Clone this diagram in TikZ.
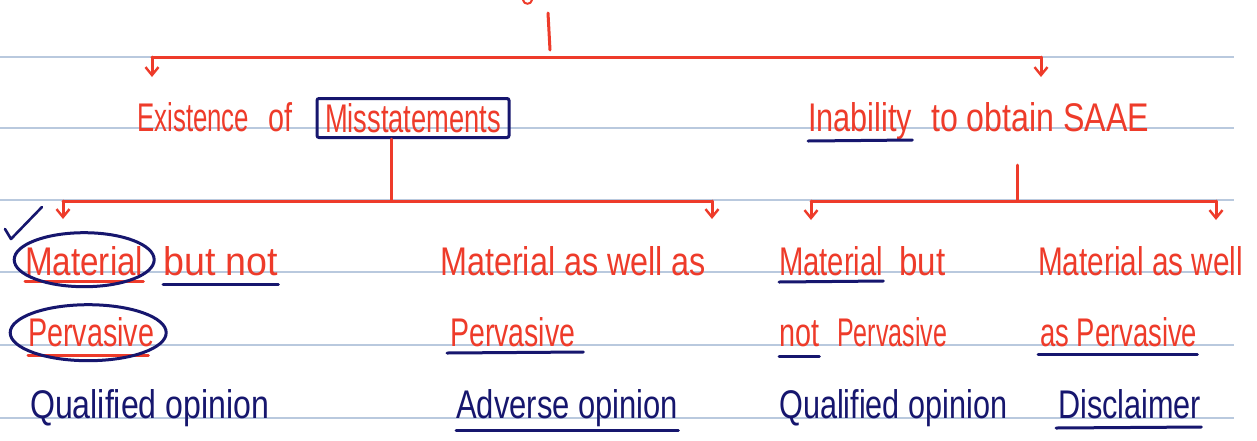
\documentclass[tikz,border=0pt]{standalone}
\usepackage{fontspec}
\setmainfont{Liberation Sans}
\usetikzlibrary{arrows.meta}
\definecolor{pen}{HTML}{EE3B2A}
\definecolor{ink}{HTML}{16166E}
\definecolor{ruled}{HTML}{B9C9DE}
\newcommand{\hw}[2]{\resizebox{#1pt}{\height}{#2}}
\begin{document}
\begin{tikzpicture}[x=1pt,y=-1pt,
  lbl/.style={inner sep=0pt, anchor=base west, font=\fontsize{40}{46}\selectfont},
  redtxt/.style={lbl, text=pen},
  navytxt/.style={lbl, text=ink},
  redline/.style={draw=pen, line width=3pt, line cap=round},
  downarrow/.style={redline, -{Straight Barb[length=8pt,width=13pt,line width=2.4pt]}},
  navyline/.style={draw=ink, line width=3pt, line cap=round},
  redul/.style={draw=pen, line width=3pt, line cap=round},
  ruleline/.style={draw=ruled, line width=1.4pt}]
\fill[white] (0,0) rectangle (1257,440);
\useasboundingbox (0,0) rectangle (1257,440);
% ruled paper
\foreach \yy in {57,128,200,272,345,418}{\draw[ruleline] (0,\yy) -- (1234,\yy);}
% top
\draw[redline, line width=2pt] (523,0) .. controls (524,5) and (531,5) .. (532,0);
\coordinate (t0) at (548,13);
\coordinate (t1) at (550,50);
\draw[redline] (t0) -- (t1);
\coordinate (hl) at (152,57);
\coordinate (hr) at (1041,57);
\draw[redline] (hl) -- (hr);
\coordinate (al) at (152,77);
\coordinate (ar) at (1041,77);
\draw[downarrow] (hl) -- (al);
\draw[downarrow] (hr) -- (ar);
% level 1 texts
\node[redtxt] (exist) at (137,131) {\hw{112}{Existence}};
\node[redtxt] (of) at (268,131) {\hw{24}{of}};
\node[draw=ink, line width=3pt, rounded corners=2pt, inner sep=0pt,
      minimum width=192pt, minimum height=39pt, text=pen,
      font=\fontsize{40}{46}\selectfont] (mis) at (413,118) {\hw{176}{Misstatements}};
\node[redtxt] (inab) at (808,131) {\hw{104}{Inability}};
\node[redtxt] (obt) at (931,131) {\hw{218}{to obtain SAAE}};
\draw[navyline] ([yshift=-10pt]inab.base west) -- ([yshift=-9pt]inab.base east);
% level 2 connectors (left)
\coordinate (j1) at (391,201);
\draw[redline] (mis.south -| j1) -- (j1);
\coordinate (l1) at (63,201);
\coordinate (l2) at (712,201);
\draw[redline] (l1) -- (l2);
\coordinate (l1e) at (63,219);
\coordinate (l2e) at (712,219);
\draw[downarrow] (l1) -- (l1e);
\draw[downarrow] (l2) -- (l2e);
% level 2 connectors (right)
\coordinate (j2t) at (1017,165);
\coordinate (j2) at (1017,201);
\draw[redline] (j2t) -- (j2);
\coordinate (r1) at (811,201);
\coordinate (r2) at (1216,201);
\draw[redline] (r1) -- (r2);
\coordinate (r1e) at (811,220);
\coordinate (r2e) at (1216,220);
\draw[downarrow] (r1) -- (r1e);
\draw[downarrow] (r2) -- (r2e);
% check mark
\coordinate (c0) at (5,229);
\coordinate (c1) at (11,239);
\coordinate (c2) at (42,207);
\draw[navyline, line width=2.6pt, line join=round] (c0) -- (c1) -- (c2);
% column 1
\node[redtxt] (m1) at (25,275) {\hw{118}{Material}};
\node[redtxt] (n1) at (163,275) {\hw{115}{but not}};
\draw[redul] ([yshift=-6pt]m1.base west) -- ([yshift=-6pt]m1.base east);
\draw[navyline] ([yshift=1pt]m1.center) ellipse [x radius=70pt, y radius=27pt];
\draw[navyline] ([yshift=-9pt]n1.base west) -- ([yshift=-9pt]n1.base east);
\node[redtxt] (p1) at (28,346) {\hw{126}{Pervasive}};
\draw[redul] ([yshift=-9pt]p1.base west) -- ([yshift=-9pt,xshift=-6pt]p1.base east);
\draw[navyline] ([xshift=-3pt,yshift=-1pt]p1.center) ellipse [x radius=78pt, y radius=28pt];
\node[navytxt] (q1) at (30,418) {\hw{239}{Qualified opinion}};
% column 2
\node[redtxt] (m2) at (440,275) {\hw{266}{Material as well as}};
\node[redtxt] (p2) at (450,346) {\hw{125}{Pervasive}};
\draw[navyline] ([yshift=-7pt,xshift=-3pt]p2.base west) -- ([yshift=-6pt,xshift=8pt]p2.base east);
\node[navytxt] (a2) at (456,418) {\hw{222}{Adverse opinion}};
\draw[navyline] ([yshift=-12pt]a2.base west) -- ([yshift=-12pt]a2.base east);
% column 3
\node[redtxt] (m3) at (779,275) {\hw{104}{Material}};
\node[redtxt] (b3) at (899,275) {\hw{46}{but}};
\draw[navyline] ([yshift=-7pt]m3.base west) -- ([yshift=-6pt]m3.base east);
\node[redtxt] (no3) at (779,346) {\hw{40}{not}};
\node[redtxt] (p3) at (837,346) {\hw{110}{Pervasive}};
\draw[navyline] ([yshift=-10pt]no3.base west) -- ([yshift=-10pt]no3.base east);
\node[navytxt] (q3) at (779,418) {\hw{228}{Qualified opinion}};
% column 4
\node[redtxt] (m4) at (1038,275) {\hw{205}{Material as well}};
\node[redtxt] (p4) at (1040,346) {\hw{157}{as Pervasive}};
\draw[navyline] ([yshift=-8pt,xshift=-2pt]p4.base west) -- ([yshift=-8pt]p4.base east);
\node[navytxt] (d4) at (1058,418) {\hw{143}{Disclaimer}};
\draw[navyline] ([yshift=-10pt,xshift=-2pt]d4.base west) -- ([yshift=-9pt]d4.base east);
\end{tikzpicture}
\end{document}
